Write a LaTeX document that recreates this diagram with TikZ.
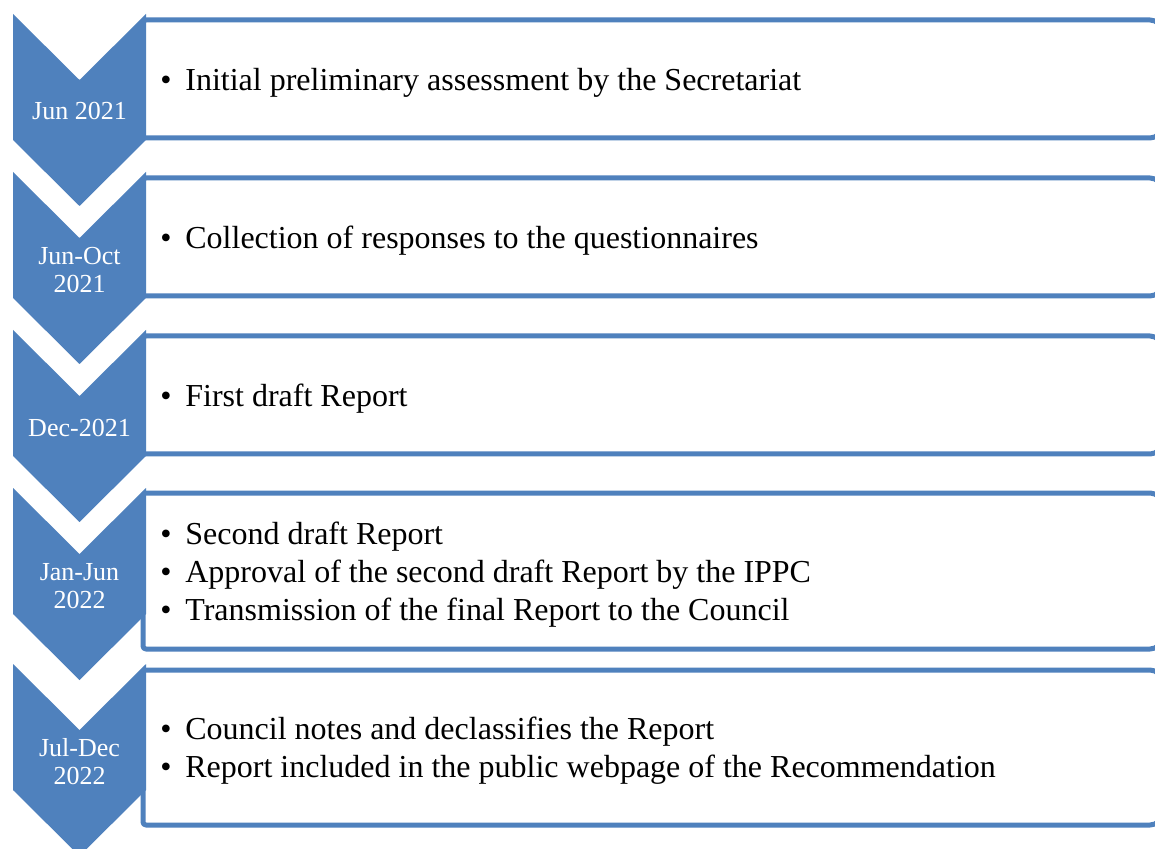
\documentclass[tikz,border=0pt]{standalone}
\usepackage{fontspec}
\setmainfont{Liberation Serif}
\usetikzlibrary{positioning}
\definecolor{chevblue}{HTML}{4F81BD}

\begin{document}
\begin{tikzpicture}[line cap=round,line join=round,x=0.5pt,y=-0.5pt,
  chevron/.style={fill=chevblue,draw=none},
  stepframe/.style={draw=chevblue,line width=2.5pt,fill=white},
  datelabel/.style={text=white,align=center,font=\fontsize{13}{14}\selectfont,inner sep=0pt},
  itemtext/.style={anchor=west,align=left,font=\fontsize{16}{19}\selectfont,inner sep=0pt}]
\useasboundingbox (0,0) rectangle (1155,849);
\clip (0,0) rectangle (1155,849);
\fill[white] (0,0) rectangle (1155,849);
\newcommand{\bul}{\makebox[12.5pt][l]{\textbullet}}
% frames behind the chevrons (big round on the right, small on the left)
\draw[stepframe] (143,79) [rounded corners=1.5pt] -- (143,20) [rounded corners=6pt] -- (1162,20) -- (1162,138) [rounded corners=1.5pt] -- (143,138) -- cycle;
\draw[stepframe] (143,237) [rounded corners=1.5pt] -- (143,178) [rounded corners=6pt] -- (1162,178) -- (1162,296) [rounded corners=1.5pt] -- (143,296) -- cycle;
\draw[stepframe] (143,395) [rounded corners=1.5pt] -- (143,336) [rounded corners=6pt] -- (1162,336) -- (1162,454) [rounded corners=1.5pt] -- (143,454) -- cycle;
\draw[stepframe] (143,571) [rounded corners=1.5pt] -- (143,493) [rounded corners=6pt] -- (1162,493) -- (1162,649) [rounded corners=1.5pt] -- (143,649) -- cycle;
\draw[stepframe] (143,747) [rounded corners=1.5pt] -- (143,670) [rounded corners=6pt] -- (1162,670) -- (1162,825) [rounded corners=1.5pt] -- (143,825) -- cycle;
% chevrons: top at t, notch t+66, sides end t+126, tip t+192
\fill[chevron] (13,14) -- (79.5,80) -- (146,14) -- (146,140) -- (79.5,206) -- (13,140) -- cycle;
\fill[chevron] (13,172) -- (79.5,238) -- (146,172) -- (146,298) -- (79.5,364) -- (13,298) -- cycle;
\fill[chevron] (13,330) -- (79.5,396) -- (146,330) -- (146,456) -- (79.5,522) -- (13,456) -- cycle;
\fill[chevron] (13,488) -- (79.5,554) -- (146,488) -- (146,614) -- (79.5,680) -- (13,614) -- cycle;
\fill[chevron] (13,664) -- (79.5,730) -- (146,664) -- (146,790) -- (79.5,856) -- (13,790) -- cycle;
% dates
\node[datelabel] (d1) at (79.5,111) {Jun 2021};
\node[datelabel] (d2) at (79.5,270) {Jun-Oct\\2021};
\node[datelabel] (d3) at (79.5,428) {Dec-2021};
\node[datelabel] (d4) at (79.5,586) {Jan-Jun\\2022};
\node[datelabel] (d5) at (79.5,762) {Jul-Dec\\2022};
% items
\node[itemtext] (s1) at (160,83) {\bul Initial preliminary assessment by the Secretariat};
\node[itemtext] (s2) at (160,241) {\bul Collection of responses to the questionnaires};
\node[itemtext] (s3) at (160,399) {\bul First draft Report};
\node[itemtext] (s4) at (160,575) {\bul Second draft Report\\
  \bul Approval of the second draft Report by the IPPC\\
  \bul Transmission of the final Report to the Council};
\node[itemtext] (s5) at (160,751) {\bul Council notes and declassifies the Report\\
  \bul Report included in the public webpage of the Recommendation};
\end{tikzpicture}
\end{document}
